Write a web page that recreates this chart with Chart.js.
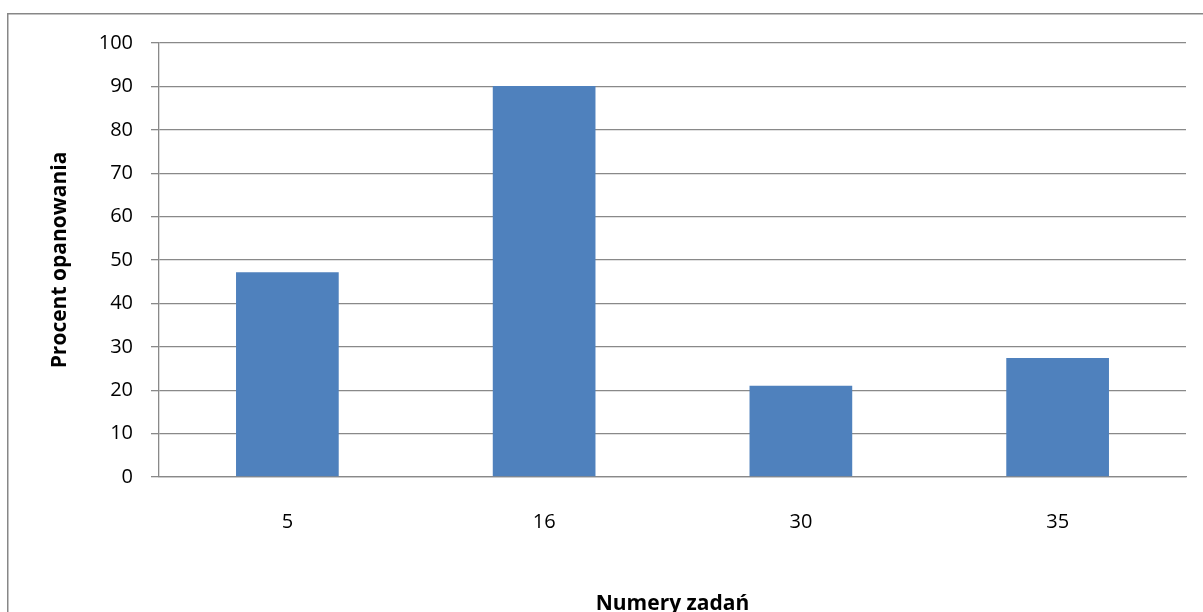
<!DOCTYPE html>
<html>
<head>
<meta charset="utf-8">
<script src="https://cdn.jsdelivr.net/npm/chart.js@4/dist/chart.umd.min.js"></script>
<style>
html,body{margin:0;padding:0;background:#fff;}
#wrap{position:absolute;left:0;top:0;width:1203px;height:612px;}
</style>
</head>
<body>
<div id="wrap"><canvas id="c" width="1203" height="612"></canvas></div>
<script>
const categories = ['5', '16', '30', '35'];
const values = [47.2, 90.1, 21.0, 27.4];
const yTicks = [0, 10, 20, 30, 40, 50, 60, 70, 80, 90, 100];
const xTitle = 'Numery zadań';
const yTitle = 'Procent opanowania';

const FONT = "'Open Sans', sans-serif";
const GRID = '#898989';

const borderPlugin = {
  id: 'outerBorder',
  beforeDraw(chart) {
    const ctx = chart.ctx;
    ctx.save();
    ctx.fillStyle = '#fff';
    ctx.fillRect(0, 0, chart.width, chart.height);
    ctx.strokeStyle = '#878787';
    ctx.lineWidth = 1.5;
    ctx.strokeRect(7.75, 13.75, 1400, 1000);
    ctx.restore();
  }
};

new Chart(document.getElementById('c'), {
  type: 'bar',
  data: {
    labels: categories,
    datasets: [{
      data: values,
      backgroundColor: '#4F81BD',
      borderWidth: 0,
      barPercentage: 0.4,
      categoryPercentage: 1.0
    }]
  },
  plugins: [borderPlugin],
  options: {
    responsive: false,
    animation: false,
    events: [],
    layout: { padding: { left: 0, right: 17, top: 43, bottom: 0 } },
    plugins: { legend: { display: false }, tooltip: { enabled: false } },
    scales: {
      x: {
        grid: { display: false, drawTicks: false },
        border: { display: true, color: GRID, width: 1.3 },
        ticks: { color: '#000', font: { family: FONT, size: 20 }, padding: 33, maxRotation: 0 },
        title: { display: true, text: xTitle, color: '#000', font: { family: FONT, size: 21, weight: 'bold', lineHeight: 1 }, padding: { top: 0, bottom: -3 } },
        afterFit(s) { s.height = 135; }
      },
      y: {
        min: 0, max: 100,
        afterBuildTicks(s) { s.ticks = yTicks.map(v => ({ value: v })); },
        grid: { color: GRID, lineWidth: 1.3, tickLength: 8, drawTicks: true },
        border: { display: true, color: GRID, width: 1.3 },
        ticks: { color: '#000', font: { family: FONT, size: 20 }, padding: 18 },
        title: { display: true, text: yTitle, color: '#000', font: { family: FONT, size: 21, weight: 'bold', lineHeight: 1 }, padding: { top: 50, bottom: 0 } },
        afterFit(s) { s.width = 159; }
      }
    }
  }
});
</script>
</body>
</html>
